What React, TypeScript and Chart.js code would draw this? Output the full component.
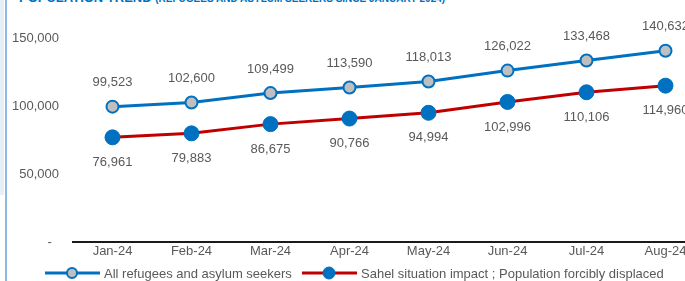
import React, { useEffect, useRef } from "react";
import { Chart, registerables } from "chart.js";

Chart.register(...registerables);

const categories = ["Jan-24", "Feb-24", "Mar-24", "Apr-24", "May-24", "Jun-24", "Jul-24", "Aug-24"];
const refugeesSeries = [99523, 102600, 109499, 113590, 118013, 126022, 133468, 140632];
const sahelSeries = [76961, 79883, 86675, 90766, 94994, 102996, 110106, 114960];
const yTickValues = [0, 50000, 100000, 150000];
const seriesNames = [
  "All refugees and asylum seekers",
  "Sahel situation impact ; Population forcibly displaced",
];

const BLUE = "#0070C0";
const RED = "#C00000";
const GREY = "#BFBFBF";
const TEXT = "#595959";
const FONT = "Arial, 'Liberation Sans', sans-serif";

const fmt = (v: number) => (v === 0 ? "-  " : v.toLocaleString("en-US"));

const labelsPlugin = {
  id: "valueLabels",
  afterDatasetsDraw(chart: any) {
    const ctx = chart.ctx;
    ctx.save();
    ctx.font = `13px ${FONT}`;
    ctx.fillStyle = TEXT;
    ctx.textAlign = "center";
    ctx.textBaseline = "middle";
    chart.data.datasets.forEach((ds: any, i: number) => {
      const meta = chart.getDatasetMeta(i);
      meta.data.forEach((pt: any, j: number) => {
        const dy = i === 0 ? -24 : 25;
        ctx.fillText(fmt(ds.data[j]), pt.x, pt.y + dy);
      });
    });
    ctx.restore();
  },
};

const legendPlugin = {
  id: "customLegend",
  afterDraw(chart: any) {
    const ctx = chart.ctx;
    ctx.save();
    const y = 273;
    const items = [
      { x: 45, line: BLUE, fill: GREY, border: BLUE, r: 5, bw: 2 },
      { x: 302, line: RED, fill: BLUE, border: BLUE, r: 6, bw: 1 },
    ];
    ctx.font = `13px ${FONT}`;
    ctx.textBaseline = "middle";
    ctx.textAlign = "left";
    items.forEach((it, i) => {
      ctx.strokeStyle = it.line;
      ctx.lineWidth = 3;
      ctx.beginPath();
      ctx.moveTo(it.x, y);
      ctx.lineTo(it.x + 55, y);
      ctx.stroke();
      ctx.beginPath();
      ctx.arc(it.x + 27, y, it.r, 0, Math.PI * 2);
      ctx.fillStyle = it.fill;
      ctx.fill();
      ctx.lineWidth = it.bw;
      ctx.strokeStyle = it.border;
      ctx.stroke();
      ctx.fillStyle = TEXT;
      ctx.fillText(seriesNames[i], it.x + 59, y + 1);
    });
    ctx.restore();
  },
};

export default function App() {
  const ref = useRef<HTMLCanvasElement>(null);
  useEffect(() => {
    if (!ref.current) return;
    const chart = new Chart(ref.current, {
      type: "line",
      data: {
        labels: categories,
        datasets: [
          {
            label: seriesNames[0],
            data: refugeesSeries,
            borderColor: BLUE,
            borderWidth: 3,
            pointRadius: 6,
            pointBorderWidth: 2,
            pointBackgroundColor: GREY,
            pointBorderColor: BLUE,
            tension: 0,
          },
          {
            label: seriesNames[1],
            data: sahelSeries,
            borderColor: RED,
            borderWidth: 3,
            pointRadius: 7.5,
            pointBorderWidth: 1,
            pointBackgroundColor: BLUE,
            pointBorderColor: BLUE,
            tension: 0,
          },
        ],
      },
      options: {
        animation: false,
        responsive: false,
        maintainAspectRatio: false,
        layout: { padding: { left: 0, right: 15, top: 38, bottom: 0 } },
        plugins: {
          legend: { display: false },
          tooltip: { enabled: false },
          title: { display: false },
        },
        scales: {
          x: {
            offset: true,
            grid: { display: false, drawTicks: false },
            border: { display: true, color: "#1a1a1a", width: 2 },
            ticks: { color: TEXT, font: { family: FONT, size: 13 }, padding: 2, maxRotation: 0 },
            afterFit: (s: any) => {
              s.height = 39;
            },
          },
          y: {
            min: 0,
            max: 150000,
            afterBuildTicks: (s: any) => {
              s.ticks = yTickValues.map((v) => ({ value: v }));
            },
            grid: { display: false, drawTicks: false },
            border: { display: false },
            ticks: {
              color: TEXT,
              font: { family: FONT, size: 13 },
              padding: 14,
              callback: (v: any) => fmt(Number(v)),
            },
            afterFit: (s: any) => {
              s.width = 73;
            },
          },
        },
      },
      plugins: [labelsPlugin, legendPlugin],
    });
    return () => chart.destroy();
  }, []);

  return (
    <div
      style={{
        position: "absolute",
        left: 0,
        top: 0,
        width: 685,
        height: 281,
        overflow: "hidden",
        background: "#fff",
      }}
    >
      <div style={{ position: "absolute", left: 0, top: 0, width: 4, height: 195, background: "#E6EFF8" }} />
      <div style={{ position: "absolute", left: 5, top: 0, width: 2, height: 281, background: "#8DB8E2" }} />
      <div
        style={{
          position: "absolute",
          left: 19,
          top: -10,
          whiteSpace: "nowrap",
          color: BLUE,
          fontFamily: FONT,
          fontWeight: "bold",
          fontSize: 13,
        }}
      >
        POPULATION TREND <span style={{ fontSize: 10 }}>(REFUGEES AND ASYLUM SEEKERS SINCE JANUARY 2024)</span>
      </div>
      <canvas ref={ref} width={720} height={281} style={{ position: "absolute", left: 0, top: 0 }} />
    </div>
  );
}
